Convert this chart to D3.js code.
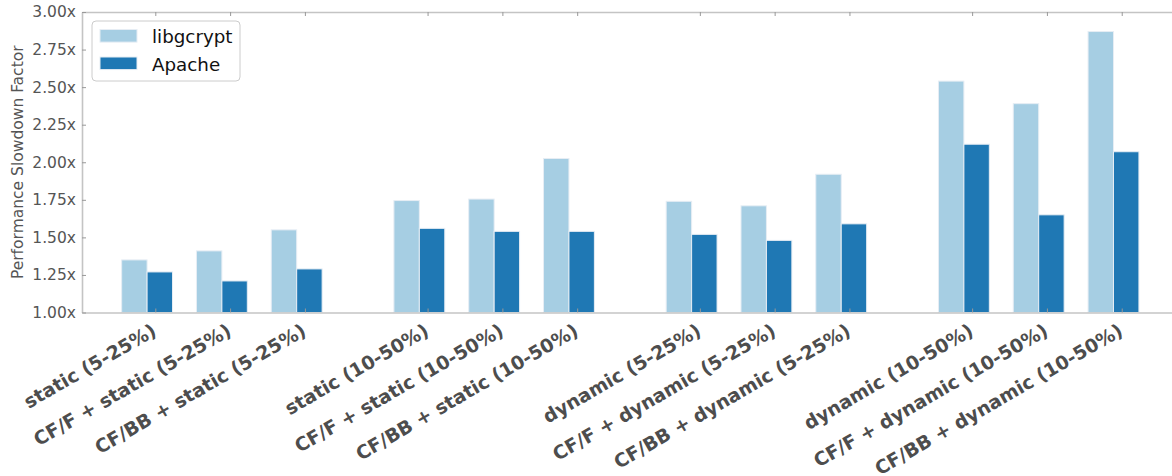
<!DOCTYPE html>
<html>
<head>
<meta charset="utf-8">
<script src="https://cdn.jsdelivr.net/npm/d3@7"></script>
<style>
  body { margin: 0; background: #fff; }
  text { font-family: "DejaVu Sans", sans-serif; }
</style>
</head>
<body>
<div id="chart"></div>
<script>
// data
var categories = [
  "static (5-25%)", "CF/F + static (5-25%)", "CF/BB + static (5-25%)",
  "static (10-50%)", "CF/F + static (10-50%)", "CF/BB + static (10-50%)",
  "dynamic (5-25%)", "CF/F + dynamic (5-25%)", "CF/BB + dynamic (5-25%)",
  "dynamic (10-50%)", "CF/F + dynamic (10-50%)", "CF/BB + dynamic (10-50%)"
];
var libgcrypt = [1.35, 1.41, 1.55, 1.745, 1.755, 2.025, 1.74, 1.71, 1.92, 2.54, 2.39, 2.87];
var apache    = [1.27, 1.21, 1.29, 1.56, 1.54, 1.54, 1.52, 1.48, 1.59, 2.12, 1.65, 2.07];
var yTicks = [1.00, 1.25, 1.50, 1.75, 2.00, 2.25, 2.50, 2.75, 3.00];
var seriesNames = ["libgcrypt", "Apache"];
var seriesColors = ["#a6cee3", "#1f78b4"];

var W = 1172, H = 476;
var plot = {left: 82, top: 12, bottom: 312.5};
var barW = 0.34, tickOff = 0.45, groupGap = 0.64;

// slot position of each category (groups of 3 with a gap)
function slot(i) { return i + Math.floor(i / 3) * groupGap; }

var svg = d3.select("#chart").append("svg")
  .attr("width", W)
  .attr("height", H);

var x = d3.scaleLinear().domain([-0.53, 14.1]).range([plot.left, plot.left + 14.63 * 74.8]);
var y = d3.scaleLinear().domain([1, 3]).range([plot.bottom, plot.top]);

var rows = categories.map(function (c, i) {
  return {cat: c, s: slot(i), vals: [libgcrypt[i], apache[i]]};
});

// bars
var series = svg.append("g").attr("class", "bars");
seriesNames.forEach(function (name, k) {
  series.append("g")
    .selectAll("rect")
    .data(rows)
    .enter()
    .append("rect")
    .attr("x", function (d) { return x(d.s + k * barW); })
    .attr("width", function (d) { return x(d.s + barW) - x(d.s); })
    .attr("y", function (d) { return y(d.vals[k]); })
    .attr("height", function (d) { return y(1) - y(d.vals[k]); })
    .style("fill", seriesColors[k])
    .style("stroke", "#e6edf4")
    .style("stroke-width", 1);
});

var tickPos = rows.map(function (d) { return d.s + tickOff; });

// bottom axis with rotated labels
var xAxis = svg.append("g")
  .attr("transform", "translate(0," + plot.bottom + ")")
  .call(d3.axisBottom(x).tickValues(tickPos).tickSizeInner(-4).tickSizeOuter(0)
    .tickFormat(function (d, i) { return categories[i]; }));

xAxis.selectAll("text")
  .attr("x", 2)
  .attr("y", 22)
  .attr("dy", null)
  .attr("text-anchor", "end")
  .attr("transform", "rotate(-30,2,22)")
  .style("font-size", "18.8px")
  .style("font-weight", "bold")
  .style("fill", "#4d4d4d");

// top axis, ticks only
var xTop = svg.append("g")
  .attr("transform", "translate(0," + plot.top + ")")
  .call(d3.axisTop(x).tickValues(tickPos).tickSizeInner(-4).tickSizeOuter(0).tickFormat(""));

// left axis
var yAxis = svg.append("g")
  .attr("transform", "translate(" + plot.left + ",0)")
  .call(d3.axisLeft(y).tickValues(yTicks).tickSizeInner(-4).tickSizeOuter(0).tickPadding(6)
    .tickFormat(function (d) { return d3.format(".2f")(d) + "x"; }));

yAxis.selectAll("text")
  .style("font-size", "15.5px")
  .style("fill", "#555");

// spines and ticks look
svg.selectAll(".domain").style("stroke", "#c4c4c4").style("stroke-width", 1.6);
svg.selectAll(".tick line").style("stroke", "#999").style("stroke-width", 1);

// y title
svg.append("text")
  .attr("transform", "translate(23," + ((plot.top + plot.bottom) / 2) + ") rotate(-90)")
  .attr("text-anchor", "middle")
  .style("font-size", "15.5px")
  .style("fill", "#555")
  .text("Performance Slowdown Factor");

// legend
var legend = svg.append("g").attr("transform", "translate(92,21)");
legend.append("rect")
  .attr("width", 148)
  .attr("height", 60)
  .attr("rx", 4)
  .style("fill", "#fff")
  .style("stroke", "#cccccc")
  .style("stroke-width", 1);

var items = legend.selectAll(".item")
  .data(seriesNames)
  .enter()
  .append("g")
  .attr("class", "item")
  .attr("transform", function (d, i) { return "translate(8," + (8.5 + i * 27.5) + ")"; });

items.append("rect")
  .attr("width", 37)
  .attr("height", 12.6)
  .style("fill", function (d, i) { return seriesColors[i]; })
  .style("stroke", "#e6edf4")
  .style("stroke-width", 1);

items.append("text")
  .attr("x", 52)
  .attr("y", 13.8)
  .style("font-size", "18.3px")
  .style("fill", "#111")
  .text(function (d) { return d; });
</script>
</body>
</html>
